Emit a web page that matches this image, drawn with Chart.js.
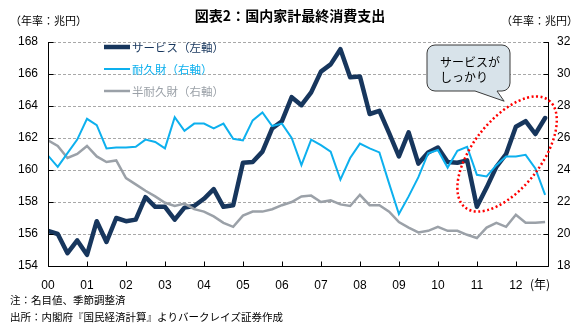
<!DOCTYPE html>
<html><head><meta charset="utf-8">
<script src="https://cdn.jsdelivr.net/npm/chart.js@4/dist/chart.umd.min.js"></script>
<style>html,body{margin:0;padding:0;background:#fff;}#wrap{width:580px;height:331px;position:relative;}</style>
</head><body><div id="wrap"><canvas id="c"></canvas></div>
<script>
const titleText = '図表2：国内家計最終消費支出';
const unitText = '（年率：兆円）';
const yearLabels = ['00','01','02','03','04','05','06','07','08','09','10','11','12'];
const seriesNames = ['サービス（左軸）','耐久財（右軸）','半耐久財（右軸）'];
const leftTicks = [154,156,158,160,162,164,166,168];
const rightTicks = [18,20,22,24,26,28,30,32];
// quarterly 2000Q1 - 2012Q4
const service = [156.2,156.0,154.8,155.6,154.7,156.8,155.5,157.0,156.8,156.9,158.3,157.7,157.7,156.9,157.65,157.75,158.2,158.8,157.7,157.8,160.45,160.5,161.15,162.6,163.05,164.55,164.05,164.85,166.15,166.6,167.55,165.8,165.85,163.5,163.7,162.3,160.85,162.35,160.4,161.1,161.4,160.5,160.45,160.6,157.7,158.9,160.2,161.0,162.7,163.05,162.25,163.25];
const durable = [24.9,24.2,25.05,25.9,27.2,26.8,25.35,25.4,25.4,25.45,25.9,25.75,25.35,27.3,26.45,26.9,26.9,26.6,26.9,25.95,25.85,27.1,27.6,26.75,26.9,26.0,24.3,25.9,25.55,25.15,23.4,24.75,25.65,25.35,25.1,23.15,21.25,22.35,23.55,25.05,25.25,24.15,25.2,25.45,23.7,23.6,24.3,24.85,24.85,24.95,24.1,22.45];
const semiDurable = [25.85,25.5,24.75,25.0,25.5,24.85,24.5,24.6,23.5,23.1,22.7,22.35,21.95,21.75,21.9,21.55,21.4,21.1,20.7,20.45,21.15,21.4,21.4,21.55,21.8,22.0,22.35,22.4,22.0,22.1,21.85,21.75,22.45,21.8,21.8,21.4,20.75,20.4,20.1,20.2,20.45,20.2,20.2,19.95,19.75,20.4,20.7,20.45,21.2,20.7,20.7,20.75];
const calloutLines = ['サービスが','しっかり'];
const notes = ['注：名目値、季節調整済','出所：内閣府『国民経済計算』よりバークレイズ証券作成'];

const JP = '"Noto Sans CJK JP", sans-serif';
const NUM = '"Liberation Sans", Arial, sans-serif';
const C_SERV = '#17365d', C_DUR = '#0db0ee', C_SEMI = '#9ba1a8';

const toPts = arr => arr.map((v, i) => ({x: i, y: v}));

const decor = {
  id: 'decor',
  afterDraw(chart) {
    const ctx = chart.ctx, a = chart.chartArea;
    const xs = chart.scales.x, yl = chart.scales.y, yr = chart.scales.y2;
    ctx.save();
    ctx.setLineDash([]);
    ctx.strokeStyle = '#000'; ctx.lineWidth = 1;
    const L = Math.round(a.left) + 0.5, R = Math.round(a.right) - 0.5, B = Math.round(a.bottom) + 0.5;
    ctx.beginPath();
    ctx.moveTo(L, a.top); ctx.lineTo(L, B); ctx.lineTo(R, B); ctx.lineTo(R, a.top);
    ctx.stroke();
    // inward tick marks
    ctx.beginPath();
    leftTicks.forEach(v => { const y = Math.round(yl.getPixelForValue(v)) + 0.5; ctx.moveTo(L, y); ctx.lineTo(L + 5, y); });
    rightTicks.forEach(v => { const y = Math.round(yr.getPixelForValue(v)) + 0.5; ctx.moveTo(R - 5, y); ctx.lineTo(R, y); });
    yearLabels.forEach((_, k) => { const x = Math.round(xs.getPixelForValue(k * 4)) + 0.5; ctx.moveTo(x, B); ctx.lineTo(x, B - 5); });
    ctx.stroke();

    // title & unit labels
    ctx.fillStyle = '#000';
    ctx.textBaseline = 'middle';
    ctx.font = 'bold 14px ' + JP; ctx.textAlign = 'center';
    ctx.fillText(titleText, 290, 16);
    ctx.font = '11px ' + JP;
    ctx.textAlign = 'left'; ctx.fillText(unitText, 10, 21);
    ctx.textAlign = 'right'; ctx.fillText(unitText, 578, 21);
    // (年)
    ctx.font = '12px ' + JP; ctx.textAlign = 'left';
    ctx.fillText('(年)', 530, 284);
    // notes
    ctx.font = '10.5px ' + JP;
    ctx.fillText(notes[0], 10, 300);
    ctx.fillText(notes[1], 10, 317);

    // legend
    const ds = chart.data.datasets;
    const rows = [47, 69, 91];
    ds.forEach((d, i) => {
      ctx.strokeStyle = d.borderColor; ctx.lineWidth = d.borderWidth;
      ctx.beginPath(); ctx.moveTo(104, rows[i]); ctx.lineTo(130, rows[i]); ctx.stroke();
      ctx.fillStyle = d.borderColor; ctx.font = '11.5px ' + JP; ctx.textAlign = 'left';
      ctx.fillText(d.label, 132, rows[i] + 0.5);
    });

    // callout
    const bx = 427, by = 45, bw = 83, bh = 46, r = 8;
    const tipX = xs.getPixelForValue(46.8), tipY = yl.getPixelForValue(164.3);
    ctx.beginPath();
    ctx.moveTo(bx + r, by);
    ctx.lineTo(bx + bw - r, by); ctx.arcTo(bx + bw, by, bx + bw, by + r, r);
    ctx.lineTo(bx + bw, by + bh - r); ctx.arcTo(bx + bw, by + bh, bx + bw - r, by + bh, r);
    ctx.lineTo(497, by + bh); ctx.lineTo(tipX, tipY); ctx.lineTo(475, by + bh);
    ctx.lineTo(bx + r, by + bh); ctx.arcTo(bx, by + bh, bx, by + bh - r, r);
    ctx.lineTo(bx, by + r); ctx.arcTo(bx, by, bx + r, by, r);
    ctx.closePath();
    ctx.fillStyle = '#d8e3ea'; ctx.fill();
    ctx.strokeStyle = '#3a3a3a'; ctx.lineWidth = 1; ctx.stroke();
    ctx.fillStyle = '#000'; ctx.font = '12px ' + JP; ctx.textAlign = 'left';
    ctx.fillText(calloutLines[0], 440, 62);
    ctx.fillText(calloutLines[1], 440, 77);

    // red dotted ellipse
    const cx = xs.getPixelForValue(47.1), cy = yl.getPixelForValue(161.0);
    ctx.beginPath();
    ctx.ellipse(cx, cy, 68, 34, -52 * Math.PI / 180, 0, Math.PI * 2);
    ctx.strokeStyle = '#ff0000'; ctx.lineWidth = 2.5; ctx.setLineDash([2, 2.5]);
    ctx.stroke();
    ctx.restore();
  }
};

new Chart(document.getElementById('c'), {
  type: 'line',
  data: {
    datasets: [
      {label: seriesNames[0], data: toPts(service), yAxisID: 'y', borderColor: C_SERV, borderWidth: 4.5, order: 2, borderJoinStyle: 'round', borderCapStyle: 'round'},
      {label: seriesNames[1], data: toPts(durable), yAxisID: 'y2', borderColor: C_DUR, borderWidth: 2, order: 0},
      {label: seriesNames[2], data: toPts(semiDurable), yAxisID: 'y2', borderColor: C_SEMI, borderWidth: 2.5, order: 1}
    ]
  },
  options: {
    responsive: true, maintainAspectRatio: false, animation: false, devicePixelRatio: 1,
    layout: {padding: {top: 42, left: 0, right: 0, bottom: 0}},
    elements: {point: {radius: 0, hoverRadius: 0}, line: {tension: 0, fill: false}},
    plugins: {legend: {display: false}, tooltip: {enabled: false}, title: {display: false}},
    scales: {
      x: {
        type: 'linear', min: 0, max: 51.4,
        afterBuildTicks: s => { s.ticks = yearLabels.map((_, k) => ({value: k * 4})); },
        afterFit: s => { s.height = 65; },
        ticks: {callback: v => yearLabels[Math.round(v / 4)], font: {family: NUM, size: 12}, color: '#000', padding: 12, maxRotation: 0, autoSkip: false},
        grid: {display: false, drawTicks: false, tickLength: 0},
        border: {display: false}
      },
      y: {
        position: 'left', min: 154, max: 168,
        afterBuildTicks: s => { s.ticks = leftTicks.map(v => ({value: v})); },
        afterFit: s => { s.width = 48; },
        ticks: {font: {family: NUM, size: 12}, color: '#000', padding: 10},
        grid: {color: '#a8a8a8', lineWidth: 1, drawTicks: false, tickLength: 0},
        border: {display: false, dash: [3, 2]}
      },
      y2: {
        position: 'right', min: 18, max: 32,
        afterBuildTicks: s => { s.ticks = rightTicks.map(v => ({value: v})); },
        afterFit: s => { s.width = 31; },
        ticks: {font: {family: NUM, size: 12}, color: '#000', padding: 8},
        grid: {display: false, drawTicks: false, tickLength: 0},
        border: {display: false}
      }
    }
  },
  plugins: [decor]
});
</script></body></html>
